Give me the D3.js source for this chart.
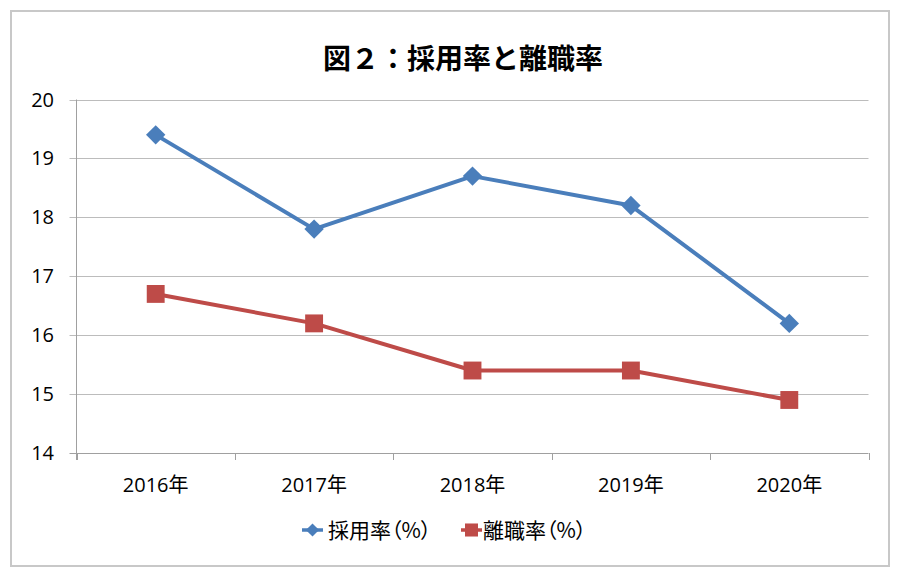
<!DOCTYPE html>
<html>
<head>
<meta charset="utf-8">
<script src="https://cdn.jsdelivr.net/npm/d3@7"></script>
<style>
  body { margin: 0; background: #fff; }
  text { font-family: "Open Sans", "Noto Sans CJK JP", sans-serif; }
</style>
</head>
<body>
<div id="svg"></div>
<script>
const width = 900;
const height = 577;

const YEARS = ["2016年", "2017年", "2018年", "2019年", "2020年"];
const HIRE_RATE = [19.4, 17.8, 18.7, 18.2, 16.2];
const LEAVE_RATE = [16.7, 16.2, 15.4, 15.4, 14.9];
const Y_TICKS = [14, 15, 16, 17, 18, 19, 20];
const SERIES_NAMES = ["採用率（%）", "離職率（%）"];

const BLUE = "#4a7ebb";
const RED = "#be4b48";

const margin = { left: 76.5, right: 868.5, top: 99.5, bottom: 453 };

let svg = d3
	.select("#svg")
	.append("svg")
	.attr("width", width)
	.attr("height", height);

// outer frame
svg.append("rect")
	.attr("x", 11)
	.attr("y", 11)
	.attr("width", 878)
	.attr("height", 555)
	.style("fill", "#fff")
	.style("stroke", "#c8c8c8")
	.style("stroke-width", 2);

svg.append("text")
	.attr("x", 463)
	.attr("y", 69)
	.attr("text-anchor", "middle")
	.attr("font-size", "28px")
	.attr("font-weight", "bold")
	.style("font-family", '"Noto Sans CJK JP", sans-serif')
	.text("図２：採用率と離職率");

const x = d3.scaleBand().domain(YEARS).range([margin.left, margin.right]);
const y = d3.scaleLinear().domain([14, 20]).range([margin.bottom, margin.top]);
const cx = (d) => x(d) + x.bandwidth() / 2;

// gridlines
svg.append("g")
	.selectAll("line")
	.data(Y_TICKS)
	.join("line")
	.attr("x1", margin.left - 7)
	.attr("x2", margin.right)
	.attr("y1", (d) => Math.round(y(d)) + 0.5)
	.attr("y2", (d) => Math.round(y(d)) + 0.5)
	.style("stroke", (d) => (d === 14 ? "#a0a0a0" : "#bcbcbc"))
	.style("stroke-width", 1);

// y axis line
svg.append("line")
	.attr("x1", margin.left)
	.attr("x2", margin.left)
	.attr("y1", margin.top)
	.attr("y2", margin.bottom + 7)
	.style("stroke", "#a0a0a0");

// x ticks at category boundaries
const bounds = YEARS.map((d) => x(d)).concat([margin.right]);
svg.append("g")
	.selectAll("line")
	.data(bounds)
	.join("line")
	.attr("x1", (d) => Math.round(d) + 0.5)
	.attr("x2", (d) => Math.round(d) + 0.5)
	.attr("y1", margin.bottom)
	.attr("y2", margin.bottom + 7)
	.style("stroke", "#a0a0a0");

svg.append("g")
	.selectAll("text")
	.data(Y_TICKS)
	.join("text")
	.attr("x", 54)
	.attr("y", (d) => y(d) + 7)
	.attr("text-anchor", "end")
	.attr("font-size", "20px")
	.text((d) => d);

svg.append("g")
	.selectAll("text")
	.data(YEARS)
	.join("text")
	.attr("x", (d) => cx(d))
	.attr("y", 492)
	.attr("text-anchor", "middle")
	.attr("font-size", "20px")
	.text((d) => d);

const line = d3
	.line()
	.x((d, i) => cx(YEARS[i]))
	.y((d) => y(d));

const diamond = d3.symbol().type(d3.symbolDiamond2).size(240);
const square = d3.symbol().type(d3.symbolSquare).size(320);

function drawSeries(values, color, sym) {
	svg.append("path")
		.datum(values)
		.attr("d", line)
		.style("fill", "none")
		.style("stroke", color)
		.style("stroke-width", 4)
		.style("stroke-linejoin", "round");
	svg.append("g")
		.selectAll("path")
		.data(values)
		.join("path")
		.attr("d", sym)
		.attr("transform", (d, i) => `translate(${cx(YEARS[i])},${y(d)})`)
		.style("fill", color);
}

drawSeries(HIRE_RATE, BLUE, diamond);
drawSeries(LEAVE_RATE, RED, square);

// legend
const legendDiamond = d3.symbol().type(d3.symbolDiamond2).size(110);
const legendSquare = d3.symbol().type(d3.symbolSquare).size(170);
const legend = [
	{ name: SERIES_NAMES[0], color: BLUE, sym: legendDiamond, x: 302, tx: 328 },
	{ name: SERIES_NAMES[1], color: RED, sym: legendSquare, x: 461, tx: 483 },
];
const lg = svg.append("g");
legend.forEach((d) => {
	lg.append("line")
		.attr("x1", d.x)
		.attr("x2", d.x + 21)
		.attr("y1", 530)
		.attr("y2", 530)
		.style("stroke", d.color)
		.style("stroke-width", 3.5);
	lg.append("path")
		.attr("d", d.sym)
		.attr("transform", `translate(${d.x + 10.5},530)`)
		.style("fill", d.color);
	lg.append("text")
		.attr("x", d.tx)
		.attr("y", 538)
		.attr("font-size", "21px")
		.style("font-family", '"Noto Sans CJK JP", sans-serif')
		.style("font-feature-settings", '"palt"')
		.text(d.name);
});
</script>
</body>
</html>
